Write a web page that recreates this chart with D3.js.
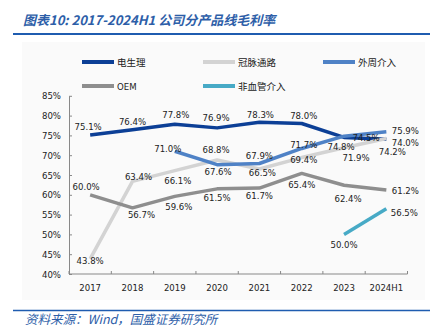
<!DOCTYPE html>
<html>
<head>
<meta charset="utf-8">
<script src="https://cdn.jsdelivr.net/npm/d3@7/dist/d3.min.js"></script>
<style>
  html, body { margin: 0; padding: 0; background: #fff; }
  svg { display: block; }
  .num { font-family: "DejaVu Sans Condensed", "DejaVu Sans", sans-serif; font-size: 9.5px; fill: #222; }
  .cjk { font-family: "Noto Sans CJK SC", sans-serif; }
</style>
</head>
<body>
<svg id="chart" width="435" height="330"></svg>
<script>
// Categories (years) and gross margin series, in percent
const years = ["2017", "2018", "2019", "2020", "2021", "2022", "2023", "2024H1"];
const yTicks = [40, 45, 50, 55, 60, 65, 70, 75, 80, 85];

const electro   = [75.1, 76.4, 77.8, 76.9, 78.3, 78.0, 74.5, 74.0];   // 电生理
const coronary  = [43.8, 63.4, 66.1, 68.8, 66.5, 69.4, 71.9, 74.2];   // 冠脉通路
const peripheral = [null, null, 71.0, 67.6, 67.9, 71.7, 74.8, 75.9];  // 外周介入
const oem       = [60.0, 56.7, 59.6, 61.5, 61.7, 65.4, 62.4, 61.2];   // OEM
const nonVascular = [null, null, null, null, null, null, 50.0, 56.5]; // 非血管介入

const seriesNames = ["电生理", "冠脉通路", "外周介入", "OEM", "非血管介入"];
const seriesValues = [electro, coronary, peripheral, oem, nonVascular];
const seriesColors = ["#0c3f96", "#d3d3d3", "#4f82c6", "#8e8e8e", "#47aac6"];

// Label nudges [dx, dy] relative to each point (text centred on dx, dy)
const labelNudge = [
  [[-2,-9],[0,-8],[1,-10],[-1,-10],[1,-8],[2,-8],[22,0],[19,3]],
  [[0,2],[6,-5],[3,10],[-1,-10],[3,3],[2,2],[12,10],[6,13]],
  [null,null,[-7,-3],[1,7],[0,-8],[2,-4],[-3,10],[19,-1]],
  [[-4,-8],[9,7],[4,10],[0,9],[0,7],[0,11],[4,13],[19,0]],
  [null,null,null,null,null,null,[0,10],[18,4]]
];

const svg = d3.select("#chart");

// Plot panel
svg.append("rect").attr("x", 22).attr("y", 42).attr("width", 403).attr("height", 258)
  .attr("fill", "#fafafa");

// Title and rules
svg.append("text").attr("class", "cjk").attr("x", 23).attr("y", 25)
  .attr("font-size", 13).attr("font-style", "italic").attr("font-weight", "bold")
  .attr("fill", "#2d5ea8").text("图表10:  2017-2024H1 公司分产品线毛利率");
svg.append("line").attr("x1", 13).attr("x2", 430).attr("y1", 34).attr("y2", 34)
  .attr("stroke", "#1f5cb0").attr("stroke-width", 2);
svg.append("line").attr("x1", 13).attr("x2", 430).attr("y1", 310.5).attr("y2", 310.5)
  .attr("stroke", "#1f5cb0").attr("stroke-width", 1.5);
svg.append("text").attr("class", "cjk").attr("x", 25).attr("y", 324)
  .attr("font-size", 12.5).attr("font-style", "italic")
  .attr("fill", "#2d5ea8").text("资料来源：Wind，国盛证券研究所");

// Scales
const x = d3.scaleBand().domain(years).range([69, 407.5]);
const y = d3.scaleLinear().domain([40, 85]).range([274, 95.8]);
const cx = d => x(d) + x.bandwidth() / 2;

// Y axis
const yAxis = svg.append("g").attr("transform", "translate(69,0)")
  .call(d3.axisLeft(y).tickValues(yTicks).tickFormat(d => d + "%").tickSize(-3).tickSizeOuter(0));
yAxis.select(".domain").attr("stroke", "#888");
yAxis.selectAll(".tick line").attr("stroke", "#888");
yAxis.selectAll(".tick text").attr("class", "num").attr("x", -8).attr("fill", "#222");

// X axis with ticks between categories
const xg = svg.append("g").attr("transform", "translate(0,274)");
xg.append("line").attr("x1", 69).attr("x2", 407.5).attr("stroke", "#888");
const bounds = years.map(d => x(d)).concat([x.range()[1]]);
xg.selectAll("line.tk").data(bounds).join("line").attr("class", "tk")
  .attr("x1", d => d).attr("x2", d => d).attr("y1", 0).attr("y2", -3).attr("stroke", "#888");
xg.selectAll("text").data(years).join("text").attr("class", "num")
  .attr("x", d => cx(d)).attr("y", 17).attr("text-anchor", "middle").text(d => d);

// Lines
const line = d3.line().defined(d => d.v != null).x(d => cx(d.k)).y(d => y(d.v));
seriesValues.forEach((vals, i) => {
  const pts = years.map((k, j) => ({ k, v: vals[j] }));
  svg.append("path").datum(pts).attr("d", line).attr("fill", "none")
    .attr("stroke", seriesColors[i]).attr("stroke-width", 3.5)
    .attr("stroke-linejoin", "round");
});

// Value labels
seriesValues.forEach((vals, i) => {
  vals.forEach((v, j) => {
    if (v == null) return;
    const n = labelNudge[i][j];
    svg.append("text").attr("class", "num")
      .attr("x", cx(years[j]) + n[0]).attr("y", y(v) + n[1])
      .attr("text-anchor", "middle").attr("dominant-baseline", "central")
      .text(v.toFixed(1) + "%");
  });
});

// Legend
const legendPos = [[82, 62], [203, 62], [323, 62], [82, 86], [203, 86]];
seriesNames.forEach((name, i) => {
  const [lx, ly] = legendPos[i];
  svg.append("line").attr("x1", lx).attr("x2", lx + 32).attr("y1", ly).attr("y2", ly)
    .attr("stroke", seriesColors[i]).attr("stroke-width", 4);
  svg.append("text").attr("class", name === "OEM" ? "num" : "cjk")
    .attr("x", lx + 35).attr("y", ly).attr("dominant-baseline", "central")
    .attr("font-size", 9.5).attr("fill", "#222").text(name);
});
</script>
</body>
</html>
